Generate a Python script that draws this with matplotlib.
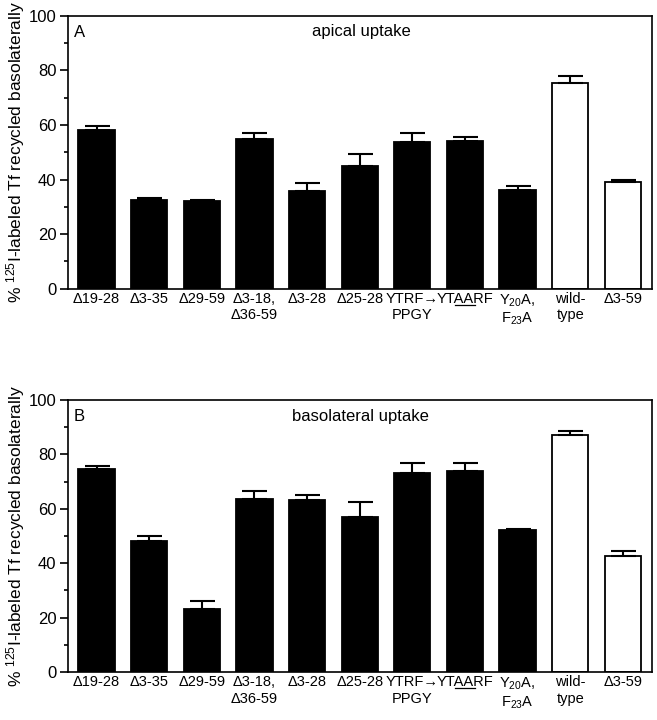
import matplotlib
matplotlib.use("Agg")
import matplotlib.pyplot as plt
from matplotlib.lines import Line2D
from matplotlib.font_manager import FontProperties
import numpy as np

plt.rcParams['font.family'] = ['Liberation Sans', 'DejaVu Sans']
plt.rcParams['mathtext.fontset'] = 'custom'
plt.rcParams['mathtext.rm'] = 'Liberation Sans'
plt.rcParams['mathtext.it'] = 'Liberation Sans:italic'
plt.rcParams['mathtext.bf'] = 'Liberation Sans:bold'

categories = ["\u039419-28", "\u03943-35", "\u039429-59", "\u03943-18,\n\u039436-59",
              "\u03943-28", "\u039425-28", "YTRF\u2192\nPPGY",
              "YTAARF", "Y$_{20}$A,\nF$_{23}$A",
              "wild-\ntype", "\u03943-59"]
underline_index = 7
underline_prefix, underline_part = "YT", "AA"

apical_values = [58.3, 32.6, 32.2, 55.0, 35.8, 45.0, 53.8, 54.3, 36.3, 75.3, 39.1]
apical_errors = [1.5, 0.7, 0.2, 2.1, 3.0, 4.5, 3.3, 1.3, 1.4, 2.7, 0.6]

baso_values = [74.5, 48.0, 23.3, 63.7, 63.2, 56.8, 73.3, 73.9, 52.3, 87.3, 42.8]
baso_errors = [1.2, 1.9, 2.7, 2.9, 1.7, 5.8, 3.4, 2.8, 0.3, 1.2, 1.5]

bar_colors = ['black'] * 9 + ['white'] * 2

panels = [("A", "apical uptake", apical_values, apical_errors),
          ("B", "basolateral uptake", baso_values, baso_errors)]

fig = plt.figure(figsize=(6.57, 7.2), dpi=100)
rects = [[0.103, 0.599, 0.889, 0.379], [0.103, 0.0667, 0.889, 0.3778]]

xlab_size = 10.5
x = np.arange(len(categories))
axes = []
for rect, (letter, title, vals, errs) in zip(rects, panels):
    ax = fig.add_axes(rect)
    axes.append(ax)
    ax.bar(x, vals, width=0.69, color=bar_colors, edgecolor='black', linewidth=1.3, zorder=2)
    ax.errorbar(x, vals, yerr=[np.zeros(len(errs)), errs], fmt='none', ecolor='black',
                elinewidth=1.5, capsize=9, capthick=1.5, zorder=3)
    ax.set_xlim(-0.55, 10.55)
    ax.set_ylim(0, 100)
    ax.set_yticks([0, 20, 40, 60, 80, 100])
    ax.set_yticks([10, 30, 50, 70, 90], minor=True)
    ax.tick_params(axis='y', which='major', direction='out', length=6, width=1.2,
                   labelsize=12, pad=2)
    ax.tick_params(axis='y', which='minor', direction='out', length=3, width=1.2)
    ax.set_xticks(x)
    ax.set_xticklabels(categories, fontsize=xlab_size, linespacing=1.2)
    ax.tick_params(axis='x', length=0, pad=2.5)
    for lab in ax.get_xticklabels():
        lab.set_multialignment('center')
    for sp in ax.spines.values():
        sp.set_linewidth(1.2)
    ax.set_ylabel("% $^{125}$I-labeled Tf recycled basolaterally", fontsize=12.5)
    ax.yaxis.set_label_coords(-0.069, 0.5)
    ax.text(0.011, 0.94, letter, transform=ax.transAxes, fontsize=12, ha='left', va='center')
    ax.text(0.502, 0.941, title, transform=ax.transAxes, fontsize=12, ha='center', va='center')

# underline "AA" in the YTAARF label
fig.canvas.draw()
renderer = fig.canvas.get_renderer()
fp = FontProperties(family=['Liberation Sans', 'DejaVu Sans'], size=xlab_size)
w_pre, _, _ = renderer.get_text_width_height_descent(underline_prefix, fp, ismath=False)
w_part, _, _ = renderer.get_text_width_height_descent(underline_part, fp, ismath=False)
for ax in axes:
    lab = ax.get_xticklabels()[underline_index]
    bb = lab.get_window_extent(renderer)
    x0 = bb.x0 + w_pre
    x1 = x0 + w_part
    y = bb.y0 + 1.0
    fx0, fy = fig.transFigure.inverted().transform((x0, y))
    fx1, _ = fig.transFigure.inverted().transform((x1, y))
    fig.add_artist(Line2D([fx0, fx1], [fy, fy], transform=fig.transFigure,
                          color='black', linewidth=0.9))

fig.savefig("out.png", dpi=100)
